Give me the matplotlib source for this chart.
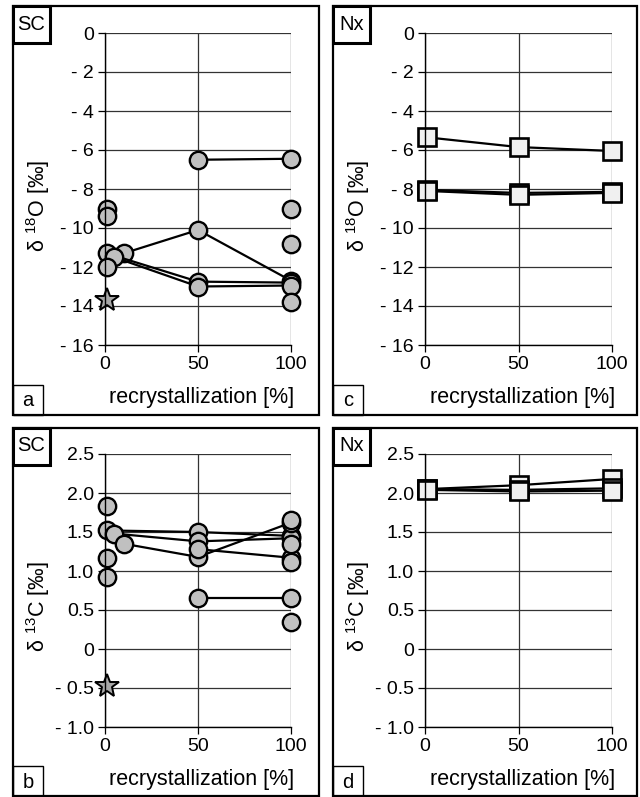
import matplotlib
matplotlib.use("Agg")
import matplotlib.pyplot as plt
from matplotlib.patches import Rectangle

plt.rcParams['font.family'] = ['Liberation Sans', 'DejaVu Sans']
plt.rcParams['mathtext.fontset'] = 'custom'
plt.rcParams['mathtext.rm'] = 'Liberation Sans'

W, H = 640, 797

# ---- data ----
x_ticks = [0, 50, 100]
o_ticks = [0, -2, -4, -6, -8, -10, -12, -14, -16]
o_ticklabels = ['0', '- 2', '- 4', '- 6', '- 8', '- 10', '- 12', '- 14', '- 16']
c_ticks = [2.5, 2.0, 1.5, 1.0, 0.5, 0, -0.5, -1.0]
c_ticklabels = ['2.5', '2.0', '1.5', '1.0', '0.5', '0', '- 0.5', '- 1.0']

# SC, delta 18O
sc_o_lines = [
    ([50, 100], [-6.5, -6.45]),
    ([10, 50, 100], [-11.3, -10.1, -12.7]),
    ([1, 50, 100], [-11.3, -12.75, -12.8]),
    ([5, 50, 100], [-11.5, -13.0, -12.95]),
]
sc_o_single_x = [1, 1, 1, 100, 100, 100]
sc_o_single_y = [-9.0, -9.4, -12.0, -9.0, -10.8, -13.8]
sc_o_star = ([1], [-13.7])

# SC, delta 13C
sc_c_lines = [
    ([1, 50, 100], [1.52, 1.50, 1.45]),
    ([5, 50, 100], [1.48, 1.38, 1.42]),
    ([10, 50, 100], [1.35, 1.18, 1.62]),
    ([50, 100], [1.28, 1.17]),
    ([50, 100], [0.66, 0.66]),
]
sc_c_single_x = [1, 1, 1, 100, 100, 100, 100]
sc_c_single_y = [1.83, 1.17, 0.92, 1.66, 1.35, 1.12, 0.34]
sc_c_star = ([1], [-0.47])

# Nx, delta 18O
nx_x = [1, 50, 100]
nx_o_series = [
    [-5.35, -5.85, -6.05],
    [-8.05, -8.2, -8.15],
    [-8.1, -8.3, -8.2],
]
# Nx, delta 13C
nx_c_series = [
    [2.05, 2.10, 2.18],
    [2.05, 2.04, 2.06],
    [2.04, 2.02, 2.03],
]


def fx(px):
    return px / W


def fy(py):
    return 1 - py / H


fig = plt.figure(figsize=(6.4, 7.97), dpi=100)


def frame(x0, y0, x1, y1, lw=1.6, z=0):
    fig.patches.append(Rectangle((fx(x0), fy(y1)), fx(x1) - fx(x0), fy(y0) - fy(y1),
                                 transform=fig.transFigure, fill=False,
                                 edgecolor='black', linewidth=lw, zorder=z))


def panel(ax_box, frame_box, ticks, ticklabels, ylim, ylabel, tag, letter):
    l, t, r, b = ax_box
    ax = fig.add_axes([fx(l), fy(b), fx(r) - fx(l), fy(t) - fy(b)])
    ax.set_xlim(0, 100)
    ax.set_ylim(*ylim)
    ax.set_xticks(x_ticks)
    ax.set_xticklabels([str(v) for v in x_ticks])
    ax.set_yticks(ticks)
    ax.set_yticklabels(ticklabels)
    for s in ['top', 'right']:
        ax.spines[s].set_visible(False)
    for s in ['left', 'bottom']:
        ax.spines[s].set_linewidth(1.0)
    ax.grid(True, color='#333333', linewidth=0.9)
    ax.set_axisbelow(True)
    ax.tick_params(direction='out', length=5, width=0.9, labelsize=14, pad=3)
    ax.patch.set_alpha(0)

    x0, y0, x1, y1 = frame_box
    frame(x0, y0, x1, y1, lw=1.6)
    # tag box (SC / Nx)
    frame(x0, y0, x0 + 37, y0 + 37, lw=2.2)
    fig.text(fx(x0 + 18.5), fy(y0 + 18), tag, ha='center', va='center', fontsize=14.5)
    # letter box
    frame(x0, y1 - 30, x0 + 30, y1, lw=1.0)
    fig.text(fx(x0 + 15), fy(y1 - 14), letter, ha='center', va='center', fontsize=14.5)
    # labels
    fig.text(fx((l + r) / 2 + 4), fy(y1 - 17), 'recrystallization [%]',
             ha='center', va='center', fontsize=15.5)
    fig.text(fx(x0 + 25), fy((y0 + y1) / 2 - 5), ylabel, ha='center', va='center',
             rotation=90, fontsize=15.5)
    return ax


circ = dict(marker='o', markersize=12.5, markerfacecolor='#c0c0c0',
            markeredgecolor='black', markeredgewidth=1.7, clip_on=False)
sq = dict(marker='s', markersize=12.5, markerfacecolor='#f0f0f0',
          markeredgecolor='black', markeredgewidth=1.9, clip_on=False)
star = dict(marker='*', markersize=18, markerfacecolor='#a8a8a8',
            markeredgecolor='black', markeredgewidth=1.4, linestyle='none', clip_on=False)

o_label = r'δ $\mathregular{^{18}}$O [‰]'
c_label = r'δ $\mathregular{^{13}}$C [‰]'

# panel a
ax = panel((105, 33, 291, 345), (13, 6, 319, 415), o_ticks, o_ticklabels,
           (-16, 0), o_label, 'SC', 'a')
for xs, ys in sc_o_lines:
    ax.plot(xs, ys, color='black', linewidth=1.6, **circ)
ax.plot(sc_o_single_x, sc_o_single_y, linestyle='none', **circ)
ax.plot(*sc_o_star, **star)

# panel c
ax = panel((425, 33, 612, 345), (333, 6, 637, 415), o_ticks, o_ticklabels,
           (-16, 0), o_label, 'Nx', 'c')
for ys in nx_o_series:
    ax.plot(nx_x, ys, color='black', linewidth=1.6, **sq)

# panel b
ax = panel((105, 454, 291, 727), (13, 428, 319, 796), c_ticks, c_ticklabels,
           (-1.0, 2.5), c_label, 'SC', 'b')
for xs, ys in sc_c_lines:
    ax.plot(xs, ys, color='black', linewidth=1.6, **circ)
ax.plot(sc_c_single_x, sc_c_single_y, linestyle='none', **circ)
ax.plot(*sc_c_star, **star)

# panel d
ax = panel((425, 454, 612, 727), (333, 428, 637, 796), c_ticks, c_ticklabels,
           (-1.0, 2.5), c_label, 'Nx', 'd')
for ys in nx_c_series:
    ax.plot(nx_x, ys, color='black', linewidth=1.6, **sq)

fig.savefig('out.png', dpi=100)
